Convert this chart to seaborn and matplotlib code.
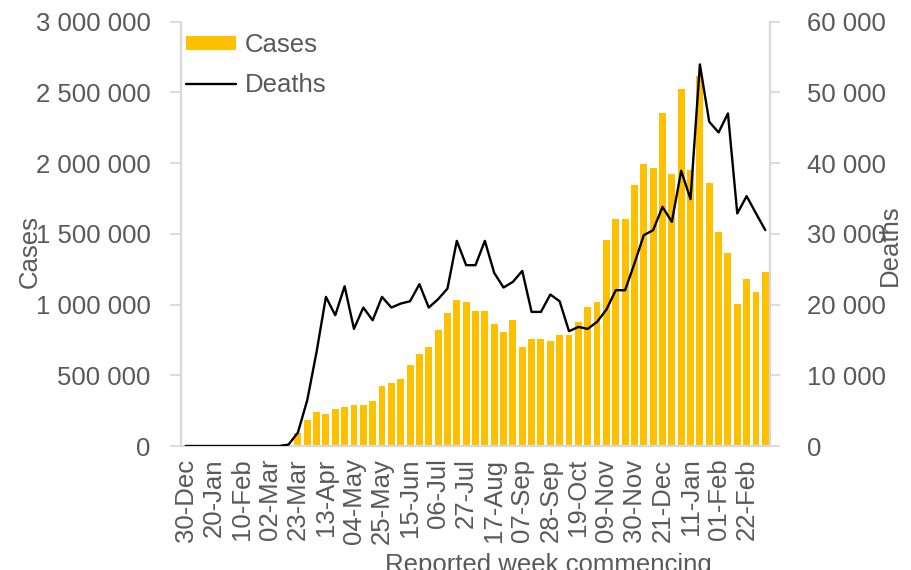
import numpy as np
import pandas as pd
import matplotlib
matplotlib.use("Agg")
import matplotlib.pyplot as plt
import seaborn as sns
from matplotlib.ticker import FuncFormatter, FixedLocator
from matplotlib.patches import Patch
from matplotlib.lines import Line2D

# ---- data ----
weeks = [d.strftime("%d-%b") for d in pd.date_range("2019-12-30", periods=63, freq="7D")]

cases = [0, 0, 0, 0, 0, 0, 0, 0, 0, 0, 1000, 5000,
         95000, 187000, 243000, 229000, 260000, 274000, 288000, 288000, 321000, 427000,
         442000, 472000, 576000, 654000, 698000, 819000, 939000, 1029000, 1015000, 953000,
         953000, 866000, 805000, 894000, 698000, 757000, 757000, 743000, 788000, 788000,
         878000, 984000, 1015000, 1456000, 1602000, 1602000, 1845000, 1996000, 1965000, 2357000,
         1923000, 2524000, 1951000, 2616000, 1859000, 1512000, 1362000, 1001000, 1182000, 1090000,
         1227000]

deaths = [0, 0, 0, 0, 0, 0, 0, 0, 0, 0, 0, 200,
          1890, 6460, 13300, 21090, 18490, 22590, 16560, 19580, 17780, 21090,
          19580, 20140, 20470, 22880, 19580, 20760, 22260, 29010, 25570, 25570,
          29010, 24480, 22410, 23210, 24760, 18960, 18960, 21420, 20470, 16230,
          16840, 16560, 17550, 19290, 22030, 22030, 25800, 29810, 30520, 33820,
          31700, 38920, 34910, 53960, 45850, 44340, 47030, 32880, 35330, 32900,
          30520]

tick_labels = ["30-Dec", "20-Jan", "10-Feb", "02-Mar", "23-Mar", "13-Apr", "04-May",
               "25-May", "15-Jun", "06-Jul", "27-Jul", "17-Aug", "07-Sep", "28-Sep",
               "19-Oct", "09-Nov", "30-Nov", "21-Dec", "11-Jan", "01-Feb", "22-Feb"]

df = pd.DataFrame({"week": weeks, "cases": cases, "deaths": deaths})

# ---- style ----
sns.set_style("white")
plt.rcParams["font.family"] = ["Liberation Sans", "DejaVu Sans"]
TXT = "#595959"
GRID = "#d9d9d9"
FS = 18.5

fig = plt.figure(figsize=(9.12, 5.70), dpi=100)
ax = fig.add_axes([181 / 912, 1 - 446 / 570, (770 - 181) / 912, (446 - 21.7) / 570])

sns.barplot(data=df, x="week", y="cases", color="#FFC000", width=0.74,
            saturation=1, linewidth=0, ax=ax, order=weeks)
ax.set_xlim(-0.5, len(weeks) - 0.5)
ax.set_ylim(0, 3_000_000)

ax2 = ax.twinx()
sns.lineplot(x=np.arange(len(weeks)), y=df["deaths"], color="black", linewidth=1.7, ax=ax2)
ax2.set_ylim(0, 60_000)
ax2.set_xlim(-0.5, len(weeks) - 0.5)

fmt = FuncFormatter(lambda v, p: f"{int(round(v)):,}".replace(",", " "))
ax.yaxis.set_major_locator(FixedLocator(np.arange(0, 3_000_001, 500_000)))
ax.yaxis.set_major_formatter(fmt)
ax2.yaxis.set_major_locator(FixedLocator(np.arange(0, 60_001, 10_000)))
ax2.yaxis.set_major_formatter(fmt)

# x ticks: labels every 3 weeks, tick marks between categories
label_pos = [weeks.index(t) for t in tick_labels]
ax.xaxis.set_major_locator(FixedLocator(label_pos))
ax.set_xticklabels(tick_labels, rotation=90)
ax.xaxis.set_minor_locator(FixedLocator(np.arange(-0.5, len(weeks), 1.0)))
ax.tick_params(axis="x", which="major", length=0, pad=9, labelsize=FS, labelcolor=TXT)
ax.tick_params(axis="x", which="minor", length=8, width=1.3, color=GRID, direction="out")
ax.tick_params(axis="y", which="major", length=8, width=1.3, color=GRID, pad=14,
               labelsize=FS, labelcolor=TXT, left=True)
ax2.tick_params(axis="y", which="major", length=7, width=1.3, color=GRID, pad=20,
                labelsize=FS, labelcolor=TXT, right=True)

for a in (ax, ax2):
    for s in a.spines.values():
        s.set_color(GRID)
        s.set_linewidth(1.6)
    a.spines["top"].set_visible(False)
    a.grid(False)
ax2.spines["left"].set_visible(False)
ax2.spines["bottom"].set_visible(False)
ax.spines["right"].set_visible(False)

ax.set_xlabel("")
ax.set_ylabel("")
ax2.set_ylabel("")
fig.text(30 / 912, 1 - 252 / 570, "Cases", rotation=90, ha="center", va="center",
         fontsize=FS, color=TXT)
fig.text(890 / 912, 1 - 245 / 570, "Deaths", rotation=90, ha="center", va="center",
         fontsize=FS, color=TXT)
fig.text(548 / 912, 1 - 565 / 570, "Reported week commencing", ha="center", va="center",
         fontsize=FS, color=TXT)

handles = [Patch(facecolor="#FFC000", edgecolor="none"),
           Line2D([0], [0], color="black", linewidth=1.7)]
leg = ax.legend(handles, ["Cases", "Deaths"], loc="upper left",
                bbox_to_anchor=(0.0, 0.985), frameon=False, fontsize=FS,
                handlelength=1.95, handleheight=0.45, handletextpad=0.35,
                labelspacing=0.6, borderaxespad=0.0, borderpad=0.2)
for t in leg.get_texts():
    t.set_color(TXT)

fig.savefig("out.png", dpi=100)
